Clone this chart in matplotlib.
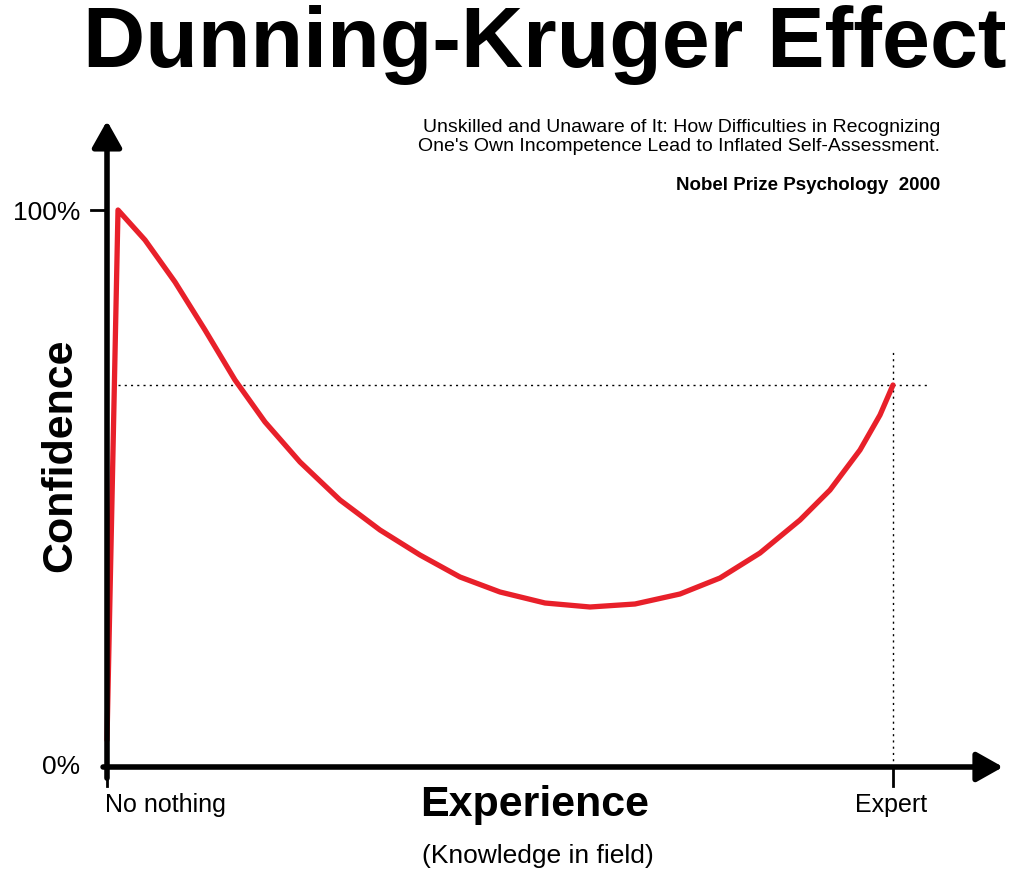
import matplotlib
matplotlib.use("Agg")
import matplotlib.pyplot as plt

plt.rcParams["font.family"] = ["Liberation Sans", "DejaVu Sans"]

W, H = 1024, 884

# curve in pixel terms, converted to 0..1 below
curve_px_x = [107, 118, 145, 175, 205, 235, 265, 300, 340, 380, 420, 460,
              500, 545, 590, 635, 680, 720, 760, 800, 830, 860, 880, 893]
curve_px_y = [740, 210, 240, 282, 330, 380, 422, 462, 500, 530, 555, 577,
              592, 603, 607, 604, 594, 578, 553, 520, 490, 450, 415, 385]
experience = [(p - 107) / 786 for p in curve_px_x]
confidence = [(767 - p) / 557 for p in curve_px_y]
expert_level = 0.686
x_labels = ["No nothing", "Expert"]
y_labels = ["0%", "100%"]

fig = plt.figure(figsize=(W / 100, H / 100), dpi=100)
ax = fig.add_axes([107 / W, (H - 767) / H, 786 / W, 557 / H])
ax.set_xlim(0, 1)
ax.set_ylim(0, 1)
ax.axis("off")

# axes with arrows
arrow = dict(arrowstyle="-|>,head_width=0.9,head_length=1.6",
             lw=4, color="black", shrinkA=0, shrinkB=0)
ax.annotate("", xy=(0, 1.16), xytext=(0, -0.02), arrowprops=arrow,
            annotation_clip=False)
ax.annotate("", xy=(1.14, 0), xytext=(-0.005, 0), arrowprops=arrow,
            annotation_clip=False)
ax.plot([0, 0], [0, -0.035], color="black", lw=2, clip_on=False)
ax.plot([1, 1], [0, -0.035], color="black", lw=2, clip_on=False)
ax.plot([0, -0.02], [1, 1], color="black", lw=2, clip_on=False)

# dotted guides
ax.plot([0.014, 1.047], [expert_level, expert_level], ls=(0, (1.5, 3)),
        color="black", lw=1, clip_on=False)
ax.plot([1, 1], [0, 0.75], ls=(0, (1.5, 3)), color="black", lw=1,
        clip_on=False)

ax.plot(experience, confidence, color="#e8202a", lw=3.8,
        solid_capstyle="round", solid_joinstyle="round", clip_on=False)

fig.text(80 / W, 1 - 767 / H, y_labels[0], ha="right", va="center", fontsize=19)
fig.text(80 / W, 1 - 213 / H, y_labels[1], ha="right", va="center", fontsize=19)
fig.text(165 / W, 1 - 805 / H, x_labels[0], ha="center", va="center", fontsize=18)
fig.text(891 / W, 1 - 805 / H, x_labels[1], ha="center", va="center", fontsize=18)

fig.text(545 / W, 1 - 45 / H, "Dunning-Kruger Effect", ha="center",
         va="center", fontsize=62, fontweight="bold")
fig.text(940 / W, 1 - 137 / H,
         "Unskilled and Unaware of It: How Difficulties in Recognizing\n"
         "One's Own Incompetence Lead to Inflated Self-Assessment.",
         ha="right", va="center", fontsize=14, linespacing=1.15)
fig.text(940 / W, 1 - 185 / H, "Nobel Prize Psychology  2000", ha="right",
         va="center", fontsize=13.5, fontweight="bold")
fig.text(60 / W, 1 - 455 / H, "Confidence", rotation=90, ha="center",
         va="center", fontsize=31, fontweight="bold")
fig.text(535 / W, 1 - 805 / H, "Experience", ha="center", va="center",
         fontsize=31, fontweight="bold")
fig.text(538 / W, 1 - 856 / H, "(Knowledge in field)", ha="center",
         va="center", fontsize=19)

fig.savefig("out.png", dpi=100)
